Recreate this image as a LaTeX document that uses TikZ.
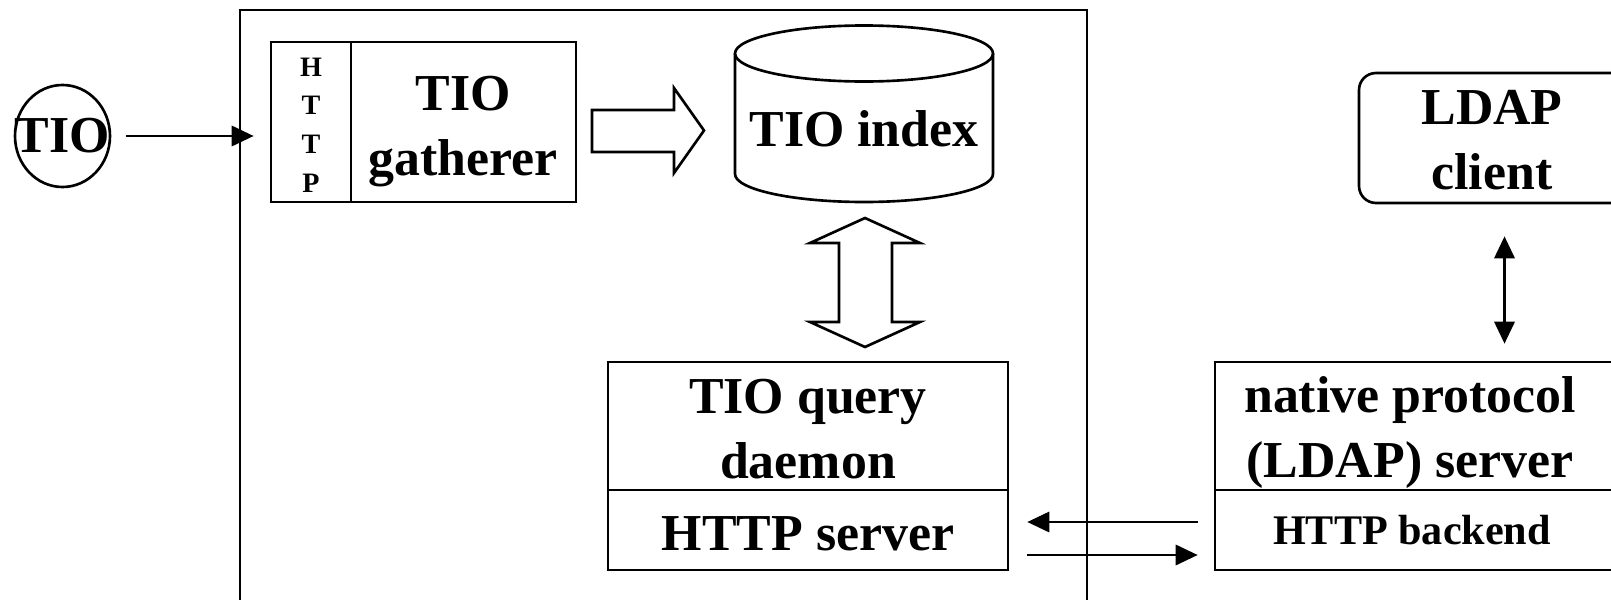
\documentclass[tikz,border=0pt]{standalone}
\usepackage{fontspec}
\setmainfont{Liberation Serif}
\usetikzlibrary{arrows.meta, calc, positioning, shapes.geometric}

\newcommand{\bigtxt}{\fontsize{29.5pt}{36.5pt}\selectfont\bfseries}
\newcommand{\midtxt}{\fontsize{24pt}{28pt}\selectfont\bfseries}
\newcommand{\tinytxt}{\fontsize{16pt}{22pt}\selectfont\bfseries}

\tikzset{
  box/.style={draw, rectangle, inner sep=0pt},
  lbl/.style={font=\bigtxt, align=center, anchor=base},
}

\begin{document}
\begin{tikzpicture}[>={Triangle[length=12.5pt,width=11.5pt]}, line width=1.5pt]
\useasboundingbox (0,0) rectangle (32.22,-11.98);
\clip (0,0) rectangle (32.22,-11.98);

% outer frame
\draw (4.80,-0.20) rectangle (21.74,-12.60);

% source
\node[ellipse, draw, minimum width=1.90cm, minimum height=2.04cm, inner sep=0pt, font=\bigtxt] (tio) at (1.25,-2.72) {\makebox[0pt]{TIO}};

% gatherer
\node[box, minimum width=6.10cm, minimum height=3.20cm] (gath) at (8.47,-2.44) {};
\draw (7.02,-0.84) -- (7.02,-4.04);
\node[font=\tinytxt, align=center] (httpcol) at (6.22,-2.50) {H\\T\\T\\P};
\node[lbl] (gtxt) at (9.26,-3.50) {TIO\\gatherer};

\draw[->, shorten <=0.30cm, shorten >=0.32cm] (tio.east) -- (tio.east -| gath.west);

% gatherer -> index
\draw (11.84,-2.20) -- (13.48,-2.20) -- (13.48,-1.76) -- (14.08,-2.61) -- (13.48,-3.46) -- (13.48,-3.04) -- (11.84,-3.04) -- cycle;

% index
\draw (14.70,-1.07) -- (14.70,-3.48) arc[start angle=180, end angle=360, x radius=2.58, y radius=0.56] -- (19.86,-1.07);
\draw (17.28,-1.07) ellipse [x radius=2.58, y radius=0.56];
\node[lbl] (idx) at (17.28,-2.92) {TIO index};

% index <-> daemon
\draw (17.30,-4.36) -- (18.40,-4.86) -- (17.84,-4.86) -- (17.84,-6.44) -- (18.40,-6.44) -- (17.30,-6.94) -- (16.20,-6.44) -- (16.78,-6.44) -- (16.78,-4.86) -- (16.20,-4.86) -- cycle;

% query daemon
\node[box, minimum width=8.00cm, minimum height=2.56cm] (qry) at (16.16,-8.52) {};
\node[box, minimum width=8.00cm, minimum height=1.60cm] (srv) at (16.16,-10.60) {};
\node[lbl] (qtxt) at (16.16,-9.56) {TIO query\\daemon};
\node[lbl] (stxt) at (16.16,-11.00) {HTTP server};

% LDAP side
\node[box, rounded corners=0.34cm, minimum width=5.82cm, minimum height=2.60cm] (ldapc) at (30.09,-2.76) {};
\node[lbl] (ltxt) at (29.84,-3.78) {LDAP\\client};

\node[box, minimum width=8.70cm, minimum height=2.56cm] (nat) at (28.65,-8.52) {};
\node[box, minimum width=8.70cm, minimum height=1.60cm] (bknd) at (28.65,-10.60) {};
\node[lbl] (ntxt) at (28.20,-9.54) {native protocol\\(LDAP) server};
\node[lbl, font=\midtxt] (btxt) at (28.24,-10.88) {HTTP backend};

\draw[<->, shorten <=0.64cm, shorten >=0.34cm] (ldapc.south) -- (ldapc.south |- nat.north);

% HTTP link
\draw[->, shorten <=0.32cm, shorten >=0.36cm] ($(bknd.west)+(0,0.16)$) -- ($(srv.east)+(0,0.16)$);
\draw[->, shorten <=0.36cm, shorten >=0.32cm] ($(srv.east)+(0,-0.50)$) -- ($(bknd.west)+(0,-0.50)$);

\end{tikzpicture}
\end{document}
